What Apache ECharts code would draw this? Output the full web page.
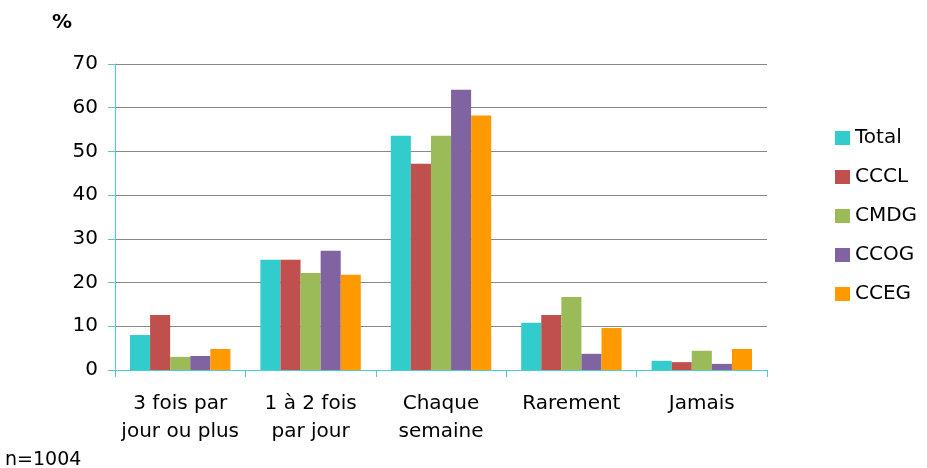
<!DOCTYPE html>
<html>
<head>
<meta charset="utf-8">
<script src="https://cdn.jsdelivr.net/npm/echarts@6/dist/echarts.min.js"></script>
<style>
html,body{margin:0;padding:0;background:#fff;}
#chart{width:927px;height:468px;}
</style>
</head>
<body>
<div id="chart"></div>
<script>
const categories = ['3 fois par\njour ou plus', '1 à 2 fois\npar jour', 'Chaque\nsemaine', 'Rarement', 'Jamais'];
const seriesNames = ['Total', 'CCCL', 'CMDG', 'CCOG', 'CCEG'];
const total = [8.0, 25.2, 53.6, 10.8, 2.1];
const cccl  = [12.6, 25.2, 47.2, 12.6, 1.8];
const cmdg  = [3.0, 22.2, 53.6, 16.7, 4.4];
const ccog  = [3.2, 27.3, 64.1, 3.7, 1.4];
const cceg  = [4.8, 21.8, 58.2, 9.6, 4.8];
const yTicks = [0, 10, 20, 30, 40, 50, 60, 70];
const colors = ['#33CCCC', '#C0504D', '#9BBB59', '#8064A2', '#FF9900'];
const values = [total, cccl, cmdg, ccog, cceg];

const FONT = 'DejaVu Sans';
const chart = echarts.init(document.getElementById('chart'), null, {renderer: 'canvas'});
chart.setOption({
  animation: false,
  backgroundColor: '#ffffff',
  color: colors,
  textStyle: {fontFamily: FONT},
  grid: {left: 115, right: 160, top: 64, bottom: 98, containLabel: false},
  title: [
    {text: '%', left: 47, top: 8, textStyle: {fontFamily: FONT, fontSize: 20, fontWeight: 'bold', color: '#000'}},
    {text: 'n=1004', left: 0, top: 446, textStyle: {fontFamily: FONT, fontSize: 19, fontWeight: 'normal', color: '#000'}}
  ],
  legend: {
    orient: 'vertical',
    left: 830,
    top: 123,
    itemWidth: 15,
    itemHeight: 14,
    itemGap: 19,
    icon: 'rect',
    data: seriesNames,
    textStyle: {fontFamily: FONT, fontSize: 20, color: '#000', lineHeight: 20}
  },
  xAxis: {
    type: 'category',
    data: categories,
    axisLine: {show: true, lineStyle: {color: '#4ECDD0', width: 1}},
    axisTick: {show: true, length: 7, lineStyle: {color: '#4ECDD0'}},
    axisLabel: {fontFamily: FONT, fontSize: 20, color: '#000', margin: 20, lineHeight: 28, interval: 0},
    splitLine: {show: false}
  },
  yAxis: {
    type: 'value',
    min: yTicks[0],
    max: yTicks[yTicks.length - 1],
    interval: 10,
    axisLine: {show: true, lineStyle: {color: '#4ECDD0', width: 1}},
    axisTick: {show: true, length: 7, lineStyle: {color: '#4ECDD0'}},
    axisLabel: {fontFamily: FONT, fontSize: 20, color: '#000', margin: 17},
    splitLine: {show: true, lineStyle: {color: '#888888', width: 1}}
  },
  series: seriesNames.map((name, i) => ({
    name: name,
    type: 'bar',
    data: values[i],
    barGap: '0%',
    barCategoryGap: '23%',
    itemStyle: {color: colors[i]}
  }))
});
</script>
</body>
</html>
